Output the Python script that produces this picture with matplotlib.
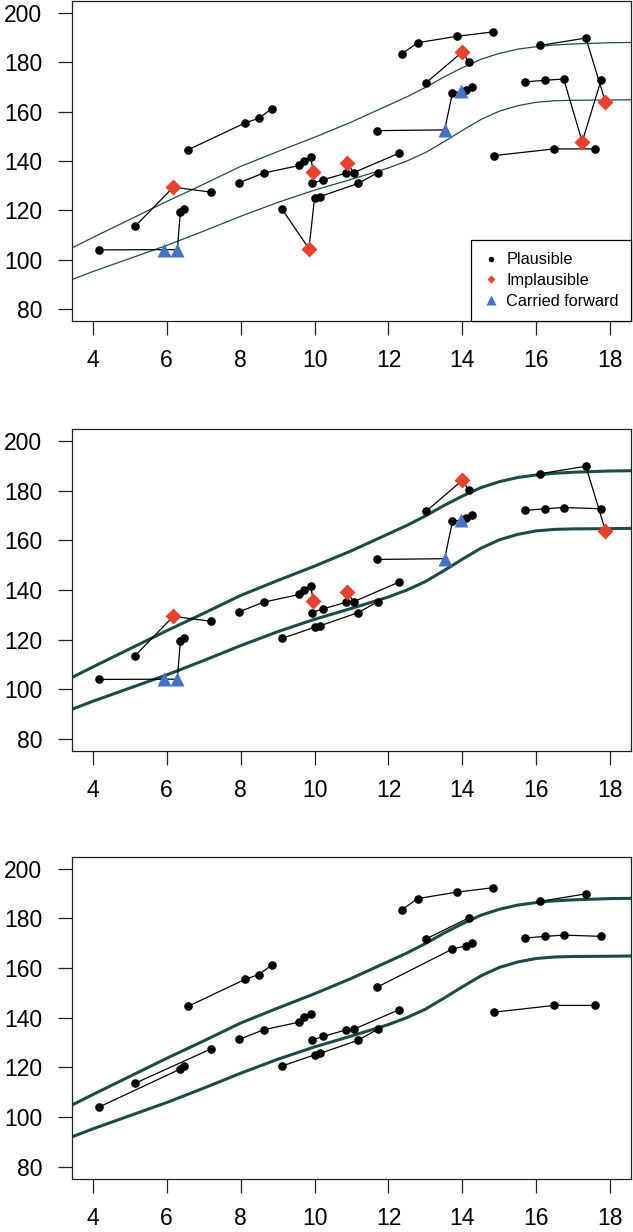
import numpy as np
import pandas as pd
import matplotlib
matplotlib.use("Agg")
import matplotlib.pyplot as plt
from matplotlib.lines import Line2D

plt.rcParams["font.family"] = ["Liberation Sans", "DejaVu Sans"]

# =====================================================
# data
# flag: 0 plausible, 1 implausible, 2 carried forward
# =====================================================
pid    = [1, 1, 1, 1, 1,
          2, 2, 2,
          3, 3, 3, 3,
          4, 4, 4, 4, 4, 4,
          5, 5, 5, 5, 5, 5,
          6, 6, 6, 6, 6, 6,
          7, 7, 7, 7, 7, 7,
          8, 8, 8, 8,
          9, 9, 9,
          10, 10, 10,
          11, 11, 11, 11, 11,
          12, 12, 12]
age    = [4.17, 5.94, 6.29, 6.37, 6.46,
          5.15, 6.18, 7.20,
          6.59, 8.12, 8.49, 8.85,
          7.96, 8.62, 9.59, 9.72, 9.90, 9.96,
          9.12, 9.85, 10.00, 10.15, 11.18, 11.71,
          9.92, 10.23, 10.84, 10.87, 11.06, 12.29,
          11.70, 13.52, 13.73, 13.97, 14.10, 14.27,
          12.36, 12.79, 13.85, 14.84,
          13.02, 14.00, 14.17,
          16.10, 17.34, 17.87,
          15.68, 16.23, 16.74, 17.24, 17.75,
          14.86, 16.48, 17.59]
height = [104.0, 104.1, 104.1, 119.3, 120.6,
          113.6, 129.4, 127.4,
          144.6, 155.4, 157.3, 161.2,
          131.2, 135.1, 138.2, 140.2, 141.6, 135.7,
          120.5, 104.5, 125.0, 125.6, 130.9, 135.3,
          130.9, 132.4, 135.0, 139.3, 135.3, 143.2,
          152.3, 152.6, 167.6, 168.2, 168.9, 170.0,
          183.4, 187.9, 190.5, 192.3,
          171.7, 184.2, 180.1,
          186.8, 189.8, 163.8,
          172.0, 172.7, 173.2, 147.8, 172.7,
          142.2, 144.9, 144.9]
flag   = [0, 2, 2, 0, 0,
          0, 1, 0,
          0, 0, 0, 0,
          0, 0, 0, 0, 0, 1,
          0, 1, 0, 0, 0, 0,
          0, 0, 0, 1, 0, 0,
          0, 2, 0, 2, 0, 0,
          0, 0, 0, 0,
          0, 1, 0,
          0, 0, 1,
          0, 0, 0, 1, 0,
          0, 0, 0]

# subjects shown in the middle panel, and the flagged values it leaves out
mid_ids = [1, 2, 4, 5, 6, 7, 9, 10, 11]
mid_skip = [(5, 9.85), (11, 17.24)]

# reference band
ref_age   = [3.44, 4, 5, 6, 7, 8, 9, 10, 11, 12, 12.5, 13, 13.5, 14, 14.5,
             15, 15.5, 16, 16.5, 17, 18, 18.56]
ref_upper = [104.8, 109.0, 116.3, 123.6, 130.6, 137.8, 143.8, 149.6, 155.8,
             162.6, 166.0, 169.8, 174.0, 177.8, 181.2, 183.6, 185.3, 186.3,
             187.0, 187.4, 187.9, 188.0]
ref_lower = [92.0, 95.2, 100.5, 105.8, 111.6, 117.6, 123.2, 128.2, 132.6,
             137.2, 140.0, 143.4, 147.8, 152.4, 156.8, 160.2, 162.4, 163.8,
             164.4, 164.6, 164.7, 164.8]

df = pd.DataFrame({"pid": pid, "age": age, "height": height, "flag": flag})

red = "#e5432f"
blue = "#4472c4"
teal = "#1d4b48"

styles = {0: dict(marker="o", color="black", ms=6.2),
          1: dict(marker="D", color=red, ms=7.8),
          2: dict(marker="^", color=blue, ms=10.5)}


def draw_panel(ax, d, band_lw):
    ax.plot(ref_age, ref_upper, color=teal, lw=band_lw, zorder=1)
    ax.plot(ref_age, ref_lower, color=teal, lw=band_lw, zorder=1)
    for _, g in d.groupby("pid"):
        ax.plot(g["age"], g["height"], color="black", lw=0.9, zorder=2)
    for f, st in styles.items():
        s = d[d["flag"] == f]
        ax.plot(s["age"], s["height"], ls="none", marker=st["marker"],
                color=st["color"], ms=st["ms"], mec="none", zorder=3)
    ax.set_xlim(3.44, 18.56)
    ax.set_ylim(75.2, 204.8)
    ax.set_xticks(range(4, 19, 2))
    ax.set_yticks(range(80, 201, 20))
    ax.tick_params(axis="both", labelsize=16.5, length=10, width=0.9,
                   color="#222222")
    ax.tick_params(axis="x", pad=10.5)
    ax.tick_params(axis="y", pad=11.5)
    for sp in ax.spines.values():
        sp.set_linewidth(0.9)
        sp.set_color("#222222")


fig = plt.figure(figsize=(6.33, 12.32), dpi=100)
left, width = 72 / 633, 559 / 633
ax1 = fig.add_axes([left, 1 - 321 / 1232, width, 320 / 1232])
ax2 = fig.add_axes([left, 1 - 751 / 1232, width, 322 / 1232])
ax3 = fig.add_axes([left, 1 - 1178.6 / 1232, width, 322 / 1232])

# all recorded values
draw_panel(ax1, df, 0.9)

# selected subjects
mid = df[df["pid"].isin(mid_ids)]
for p, a in mid_skip:
    mid = mid[~((mid["pid"] == p) & np.isclose(mid["age"], a))]
draw_panel(ax2, mid, 2.2)

# plausible values only
draw_panel(ax3, df[df["flag"] == 0], 2.2)

handles = [Line2D([], [], ls="none", marker="o", color="black", ms=4, mec="none"),
           Line2D([], [], ls="none", marker="D", color=red, ms=4.5, mec="none"),
           Line2D([], [], ls="none", marker="^", color=blue, ms=7.5, mec="none")]
leg = ax1.legend(handles, ["Plausible", "Implausible", "Carried forward"],
                 loc="lower right", bbox_to_anchor=(1, 0), borderaxespad=0,
                 fontsize=11.7, frameon=True, fancybox=False, framealpha=1,
                 edgecolor="black", handlelength=1.0, handletextpad=0.45,
                 labelspacing=0.35, borderpad=0.75)
leg.get_frame().set_linewidth(0.9)

fig.savefig("out.png", dpi=100)
